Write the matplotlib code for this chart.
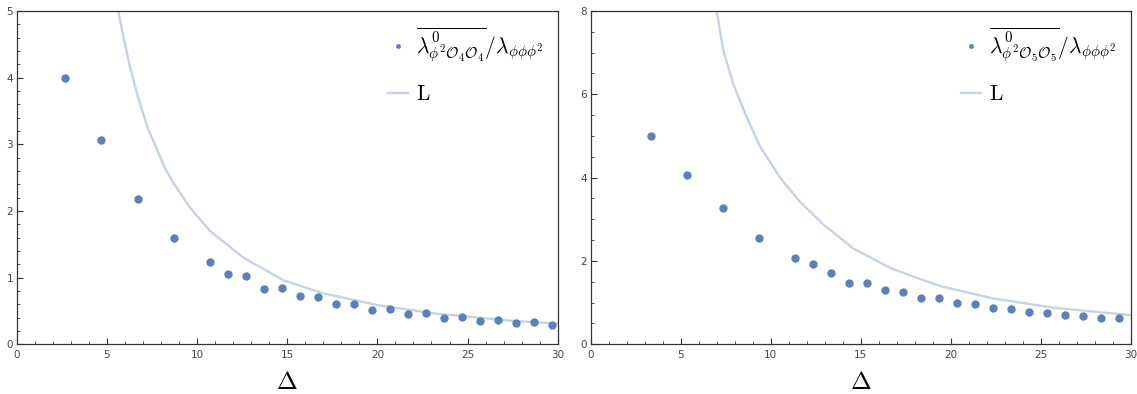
import matplotlib
matplotlib.use("Agg")
import matplotlib.pyplot as plt
from matplotlib.ticker import MultipleLocator, AutoMinorLocator

plt.rcParams["mathtext.fontset"] = "cm"

# left panel: O4
x4 = [2.7, 4.7, 6.7, 8.7, 10.7, 11.7, 12.7, 13.7, 14.7, 15.7, 16.7, 17.7, 18.7,
      19.7, 20.7, 21.7, 22.7, 23.7, 24.7, 25.7, 26.7, 27.7, 28.7, 29.7]
y4 = [4.0, 3.06, 2.18, 1.6, 1.24, 1.05, 1.02, 0.83, 0.85, 0.72, 0.71, 0.60, 0.61,
      0.515, 0.53, 0.455, 0.465, 0.40, 0.415, 0.35, 0.37, 0.32, 0.33, 0.285]
L4x = [5.63, 5.91, 6.28, 6.74, 7.30, 8.23, 8.6, 9.33, 9.61, 10.72, 12.57, 14.79,
       17.0, 19.97, 23.1, 27.36, 30.0]
L4y = [5.0, 4.62, 4.16, 3.69, 3.22, 2.64, 2.46, 2.16, 2.05, 1.70, 1.30, 0.96,
       0.765, 0.59, 0.465, 0.354, 0.31]

# right panel: O5
x5 = [3.33, 5.33, 7.33, 9.33, 11.33, 12.33, 13.33, 14.33, 15.33, 16.33, 17.33, 18.33,
      19.33, 20.33, 21.33, 22.33, 23.33, 24.33, 25.33, 26.33, 27.33, 28.33, 29.33]
y5 = [5.0, 4.06, 3.26, 2.56, 2.06, 1.93, 1.71, 1.48, 1.48, 1.30, 1.26, 1.12,
      1.10, 0.98, 0.97, 0.86, 0.85, 0.78, 0.76, 0.70, 0.69, 0.62, 0.62]
L5x = [7.0, 7.37, 7.92, 8.57, 9.41, 10.52, 11.63, 12.92, 14.59, 16.81, 19.4,
       22.37, 25.7, 30.0]
L5y = [8.0, 7.05, 6.25, 5.55, 4.75, 4.0, 3.42, 2.88, 2.30, 1.80, 1.40,
       1.10, 0.88, 0.70]

dot_c = "#5E81B5"
line_c = "#C5D2E7"
frame_c = "#333333"

fig = plt.figure(figsize=(11.37, 3.94), dpi=100)
ax1 = fig.add_axes([0.0147, 0.1261, 0.4758, 0.846])
ax2 = fig.add_axes([0.5195, 0.1261, 0.4749, 0.846])

panels = [
    (ax1, x4, y4, L4x, L4y, 5, 1, 5, r"$\overline{\lambda^0_{\phi^2\mathcal{O}_4\mathcal{O}_4}}/\lambda_{\phi\phi\phi^2}$"),
    (ax2, x5, y5, L5x, L5y, 8, 2, 4, r"$\overline{\lambda^0_{\phi^2\mathcal{O}_5\mathcal{O}_5}}/\lambda_{\phi\phi\phi^2}$"),
]

for ax, xs, ys, lx, ly, ymax, ymaj, nmin, lab in panels:
    ax.plot(xs, ys, "o", color=dot_c, ms=5, label=lab, zorder=3)
    ax.plot(lx, ly, "-", color=line_c, lw=1.7, label=r"$\mathrm{L}$", zorder=2,
            solid_joinstyle="round")
    ax.set_xlim(0, 30)
    ax.set_ylim(0, ymax)
    ax.xaxis.set_major_locator(MultipleLocator(5))
    ax.xaxis.set_minor_locator(AutoMinorLocator(5))
    ax.yaxis.set_major_locator(MultipleLocator(ymaj))
    ax.yaxis.set_minor_locator(AutoMinorLocator(nmin))
    ax.tick_params(which="both", direction="in", top=False, right=False,
                   colors=frame_c, labelcolor="#444444", labelsize=7.5)
    ax.tick_params(axis="x", pad=4)
    ax.tick_params(axis="y", pad=2.5)
    ax.tick_params(which="major", length=4.3, width=0.8)
    ax.tick_params(which="minor", length=2.4, width=0.6)
    for s in ax.spines.values():
        s.set_color(frame_c)
        s.set_linewidth(0.9)
    ax.set_xlabel(r"$\Delta$", fontsize=18, labelpad=7)
    ax.legend(loc="upper right", frameon=False, fontsize=15.5,
              markerscale=0.5, handlelength=0.95, labelspacing=0.95,
              borderaxespad=0.25, handletextpad=0.35)

fig.savefig("out.png", dpi=100)
